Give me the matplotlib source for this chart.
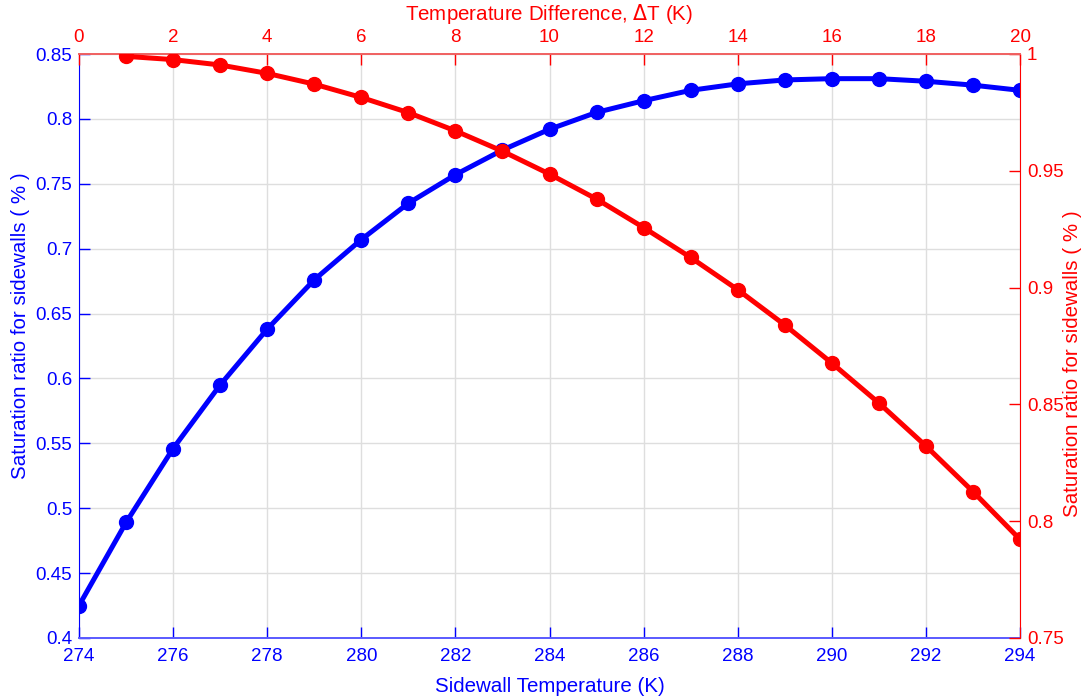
import matplotlib
matplotlib.use("Agg")
import matplotlib.pyplot as plt

plt.rcParams['font.family'] = ['Liberation Sans', 'DejaVu Sans']

# Blue series: sidewall temperature (bottom axis) vs saturation ratio (left axis)
sidewall_T = [274, 275, 276, 277, 278, 279, 280, 281, 282, 283, 284,
              285, 286, 287, 288, 289, 290, 291, 292, 293, 294]
sat_ratio_T = [0.425, 0.489, 0.546, 0.595, 0.638, 0.676, 0.707, 0.735, 0.757, 0.776, 0.792,
               0.805, 0.814, 0.822, 0.827, 0.830, 0.831, 0.831, 0.829, 0.826, 0.822]

# Red series: temperature difference (top axis) vs saturation ratio (right axis)
delta_T = [1, 2, 3, 4, 5, 6, 7, 8, 9, 10, 11, 12, 13, 14, 15, 16, 17, 18, 19, 20]
sat_ratio_dT = [0.999, 0.9976, 0.9953, 0.9917, 0.9871, 0.9814, 0.9749, 0.9671, 0.9584, 0.9486,
                0.9379, 0.9257, 0.9129, 0.8991, 0.884, 0.8677, 0.8506, 0.8322, 0.8127, 0.7922]

bottom_ticks = [274, 276, 278, 280, 282, 284, 286, 288, 290, 292, 294]
left_ticks = [0.4, 0.45, 0.5, 0.55, 0.6, 0.65, 0.7, 0.75, 0.8, 0.85]
left_ticklabels = ['0.4', '0.45', '0.5', '0.55', '0.6', '0.65', '0.7', '0.75', '0.8', '0.85']
top_ticks = [0, 2, 4, 6, 8, 10, 12, 14, 16, 18, 20]
right_ticks = [0.75, 0.8, 0.85, 0.9, 0.95, 1.0]
right_ticklabels = ['0.75', '0.8', '0.85', '0.9', '0.95', '1']

BLUE = '#0000ff'
RED = '#ff0000'
FS = 13.5
LFS = 14.8

fig = plt.figure(figsize=(10.9, 7.0), dpi=100)
rect = [79/1090, 62/700, (1020-79)/1090, (638-54)/700]
ax1 = fig.add_axes(rect)
ax1.plot(sidewall_T, sat_ratio_T, color=BLUE, lw=3.6, marker='o', ms=10, zorder=3)
ax1.set_xlim(274, 294)
ax1.set_ylim(0.4, 0.85)
ax1.set_xticks(bottom_ticks)
ax1.set_yticks(left_ticks)
ax1.set_yticklabels(left_ticklabels)
ax1.grid(True, color='#dedede', lw=1.0)
ax1.set_axisbelow(True)
ax1.tick_params(axis='both', direction='in', length=8, width=1, colors=BLUE, labelsize=FS,
                top=False, right=False)
ax1.tick_params(axis='x', pad=7)
ax1.tick_params(axis='y', pad=5)
ax1.spines['left'].set_color(BLUE)
ax1.spines['bottom'].set_color('#5a5aff')
ax1.spines['bottom'].set_linewidth(1.4)
for s in ['top', 'right']:
    ax1.spines[s].set_visible(False)
ax1.set_xlabel('Sidewall Temperature (K)', color=BLUE, fontsize=LFS, labelpad=9)
ax1.set_ylabel('Saturation ratio for sidewalls ( % )', color=BLUE, fontsize=LFS)
ax1.yaxis.set_label_coords(-0.0526, 0.535)

ax2 = fig.add_axes(rect)
ax2.patch.set_visible(False)
ax2.plot(delta_T, sat_ratio_dT, color=RED, lw=3.6, marker='o', ms=10, zorder=3)
ax2.set_xlim(0, 20)
ax2.set_ylim(0.75, 1.0)
ax2.xaxis.tick_top()
ax2.xaxis.set_label_position('top')
ax2.yaxis.tick_right()
ax2.yaxis.set_label_position('right')
ax2.set_xticks(top_ticks)
ax2.set_yticks(right_ticks)
ax2.set_yticklabels(right_ticklabels)
ax2.tick_params(axis='both', direction='in', length=8, width=1, colors=RED, labelsize=FS)
ax2.tick_params(axis='x', pad=6)
ax2.tick_params(axis='y', pad=5)
ax2.spines['left'].set_visible(False)
ax2.spines['bottom'].set_visible(False)
ax2.spines['top'].set_color('#f06060')
ax2.spines['top'].set_linewidth(1.4)
ax2.spines['right'].set_color(RED)
ax2.set_xlabel('Temperature Difference, $\\Delta$T (K)', color=RED, fontsize=LFS, labelpad=6)
ax2.set_ylabel('Saturation ratio for sidewalls ( % )', color=RED, fontsize=LFS)
ax2.yaxis.set_label_coords(1.0457, 0.47)

fig.savefig('out.png', dpi=100)
